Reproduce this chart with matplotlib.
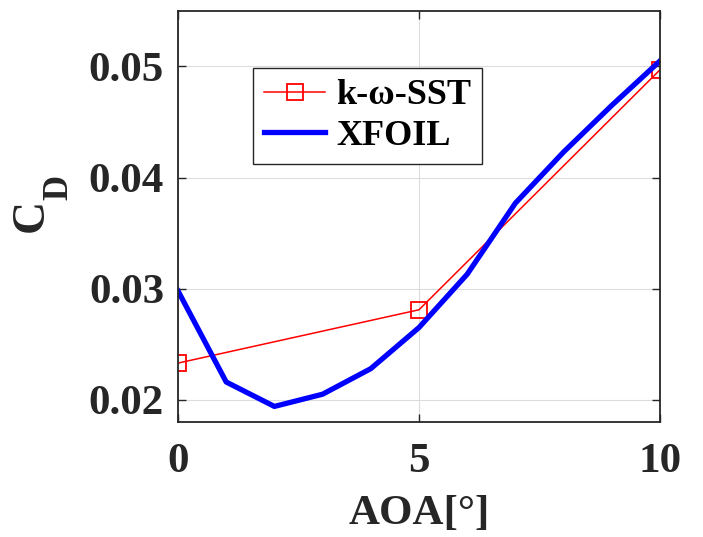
import numpy as np
import matplotlib
matplotlib.use("Agg")
from matplotlib import pyplot as plt

plt.rcParams['font.family'] = ['Liberation Serif', 'DejaVu Serif']
plt.rcParams['font.weight'] = 'bold'

# drag coefficient vs angle of attack
aoa_sst = [0, 5, 10]
cd_sst = [0.0233, 0.0281, 0.0497]

aoa_xfoil = [0, 1, 2, 3, 4, 5, 6, 7, 8, 9, 10]
cd_xfoil = [0.0298, 0.0216, 0.0194, 0.0205, 0.0228, 0.0265,
            0.0313, 0.0377, 0.0423, 0.0465, 0.0505]

W, H = 703, 537
fig = plt.figure(figsize=(W / 100, H / 100), dpi=100)
ax = fig.add_axes([0.2532, 0.2142, 0.6856, 0.7654])

ax.plot(aoa_sst, cd_sst, color='red', lw=1.1, marker='s', ms=11,
        mfc='none', mec='red', mew=1.3, label='k-ω-SST')
ax.plot(aoa_xfoil, cd_xfoil, color='blue', lw=3.8, label='XFOIL')

ax.set_xlim(0, 10)
ax.set_ylim(0.018, 0.055)
ax.set_xticks([0, 5, 10])
ax.set_yticks([0.02, 0.03, 0.04, 0.05])
ax.set_yticklabels(['0.02', '0.03', '0.04', '0.05'])
ax.grid(True, color='#dcdcdc', lw=0.8)
ax.tick_params(direction='in', length=6, width=1, top=True, right=True,
               labelsize=31, colors='#262626')
ax.tick_params(axis='x', pad=15)
ax.tick_params(axis='y', pad=10)
for lab in ax.get_xticklabels() + ax.get_yticklabels():
    lab.set_fontweight('bold')
for s in ax.spines.values():
    s.set_color('#262626')
    s.set_linewidth(1.3)

ax.set_xlabel('AOA[°]', fontsize=31, fontweight='bold', color='#262626', labelpad=10)

# C_D label with a deeply lowered subscript
fig.text(43 / W, 1 - 215 / H, 'C', rotation=90, rotation_mode='anchor',
         ha='center', va='baseline', fontsize=33, fontweight='bold', color='#262626')
fig.text(67 / W, 1 - 187 / H, 'D', rotation=90, rotation_mode='anchor',
         ha='center', va='baseline', fontsize=25, fontweight='bold', color='#262626')

leg = ax.legend(loc='upper left', bbox_to_anchor=(0.156, 0.861), borderaxespad=0,
                fancybox=False, edgecolor='#262626', fontsize=26,
                handlelength=1.7, handletextpad=0.3, borderpad=0.3,
                labelspacing=0.2, framealpha=1)
leg.get_frame().set_linewidth(1.0)
for t in leg.get_texts():
    t.set_fontweight('bold')

fig.savefig('out.png', dpi=100)
